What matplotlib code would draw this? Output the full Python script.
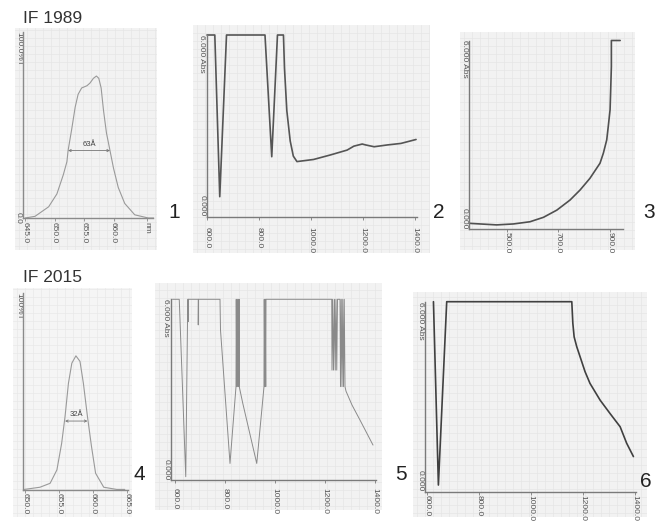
import numpy as np
import matplotlib.pyplot as plt

W, H = 655, 522

plt.rcParams['font.family'] = ['Liberation Sans', 'DejaVu Sans']

# ---- values ----
# 1: IF 1989 transmission (%T vs nm)
p1_nm = [645.0, 646.7, 649.0, 650.4, 651.5, 652.1, 652.3, 652.9, 653.5, 654.0, 654.6,
         655.5, 656.0, 656.6, 657.1, 657.5, 657.9, 658.3, 658.8, 659.4, 660.0, 660.8,
         661.9, 663.6, 665.9, 666.8]
p1_t = [0.0, 0.9, 6.0, 12.9, 23.3, 30.2, 36.2, 47.4, 59.5, 66.4, 69.8,
        71.0, 72.4, 75.0, 76.2, 75.0, 69.8, 57.8, 45.7, 36.2, 26.7, 16.4,
        7.8, 1.7, 0.0, 0.0]
p1_fwhm = [652.3, 659.4]
p1_half = 36.2
p1_note = "63Å"

# 2: IF 1989 absorbance
p2_nm = [600, 630, 649, 675, 823, 849, 871, 894, 898, 907, 920, 932, 946,
         1010, 1075, 1139, 1165, 1197, 1210, 1243, 1294, 1346, 1404]
p2_abs = [6.0, 6.0, 0.66, 6.0, 6.0, 1.98, 6.0, 6.0, 4.9, 3.5, 2.5, 2.0, 1.82,
          1.89, 2.04, 2.20, 2.33, 2.40, 2.37, 2.31, 2.37, 2.42, 2.55]

# 3: IF 1989 absorbance (blocking)
p3_nm = [355, 397, 461, 526, 590, 642, 694, 745, 784, 822, 848, 861, 874, 887,
         893, 900, 902, 905, 905, 939]
p3_abs = [0.19, 0.17, 0.14, 0.17, 0.24, 0.38, 0.61, 0.93, 1.25, 1.62, 1.94, 2.10,
          2.42, 2.84, 3.27, 3.80, 4.33, 5.17, 6.0, 6.0]

# 4: IF 2015 transmission
p4_nm = [649.9, 652.2, 653.7, 654.7, 655.4, 655.9, 656.4, 656.9, 657.5, 658.1,
         658.6, 659.2, 659.8, 660.4, 661.6, 663.5, 664.7]
p4_t = [0.3, 1.4, 3.4, 10.2, 23.7, 37.3, 54.2, 64.4, 68.1, 65.3,
        54.2, 37.3, 22.0, 8.5, 1.4, 0.3, 0.3]
p4_fwhm = [655.9, 659.2]
p4_half = 35.0
p4_note = "32Å"

# 5: IF 2015 absorbance
p5_nm = [590, 617, 643, 651, 653, 653, 654, 693, 693, 694, 780, 782, 820, 844,
         845, 847, 849, 851, 853, 855, 857, 857, 871, 927, 956, 957, 959, 961, 963,
         964, 1227, 1228, 1231, 1234, 1238, 1241, 1244, 1247, 1250, 1260, 1262,
         1265, 1268, 1271, 1274, 1277, 1280, 1284, 1308, 1340, 1392]
p5_abs = [6.0, 6.0, 0.11, 6.0, 6.0, 5.26, 6.0, 6.0, 5.15, 6.0, 6.0, 4.98, 0.55, 3.1,
          6.0, 3.1, 6.0, 3.1, 6.0, 3.1, 6.0, 3.1, 2.55, 0.55, 3.1, 6.0, 3.1, 6.0, 3.1,
          6.0, 6.0, 3.65, 6.0, 3.65, 6.0, 3.65, 6.0, 3.65, 6.0, 6.0, 3.1,
          6.0, 3.1, 6.0, 3.1, 6.0, 3.1, 2.95, 2.49, 1.99, 1.16]

# 6: IF 2015 absorbance (blocking)
p6_nm = [626, 645, 677, 1158, 1162, 1167, 1177, 1190, 1209, 1228, 1267, 1305,
         1344, 1369, 1395]
p6_abs = [6.0, 0.21, 6.0, 6.0, 5.32, 4.89, 4.58, 4.26, 3.79, 3.42, 2.89, 2.47,
          2.05, 1.53, 1.11]

abs_ticks = [600, 800, 1000, 1200, 1400]
abs_labels = ["600.0", "800.0", "1000.0", "1200.0", "1400.0"]


def px_rect(x0, y0, x1, y1):
    return [x0 / W, 1 - y1 / H, (x1 - x0) / W, (y1 - y0) / H]


fig = plt.figure(figsize=(W / 100, H / 100), dpi=100)


def paper(x0, y0, x1, y1, face="#f2f2f2", grid="#e6e6e6"):
    ax = fig.add_axes(px_rect(x0, y0, x1, y1), zorder=0)
    ax.set_facecolor(face)
    ax.set_xlim(0, x1 - x0)
    ax.set_ylim(0, y1 - y0)
    ax.set_xticks(np.arange(4, x1 - x0, 8))
    ax.set_yticks(np.arange(4, y1 - y0, 8))
    ax.grid(True, color=grid, lw=0.5)
    ax.tick_params(length=0, labelbottom=False, labelleft=False)
    for s in ax.spines.values():
        s.set_visible(False)


def panel(rect, xlim, ylim, xticks, xlabels, ylabs, pad, spine="#7a7a7a"):
    ax = fig.add_axes(px_rect(*rect), zorder=2)
    ax.patch.set_alpha(0)
    ax.set_xlim(xlim)
    ax.set_ylim(ylim)
    for side in ["top", "right"]:
        ax.spines[side].set_visible(False)
    for side in ["left", "bottom"]:
        ax.spines[side].set_color(spine)
        ax.spines[side].set_linewidth(1.0)
    ax.set_xticks(xticks)
    ax.set_xticklabels(xlabels, rotation=-90, ha="center", va="top",
                       fontsize=6, color="#555555")
    ax.tick_params(axis="x", length=2, width=0.6, pad=pad, color=spine)
    ax.set_yticks([v for v, _, _ in ylabs])
    labs = ax.set_yticklabels([t for _, t, _ in ylabs], rotation=-90,
                              fontsize=6, color="#555555")
    for lab, (_, _, va) in zip(labs, ylabs):
        lab.set_va(va)
    ax.tick_params(axis="y", length=0, pad=1)
    return ax


def fwhm(ax, xs, y, note):
    ax.annotate("", xy=(xs[1], y), xytext=(xs[0], y),
                arrowprops=dict(arrowstyle="<->", lw=0.6, color="#777777",
                                shrinkA=0, shrinkB=0, mutation_scale=4))
    ax.text((xs[0] + xs[1]) / 2, y + 1.5, note, ha="center", va="bottom",
            fontsize=5.5, color="#444444")


# paper backgrounds of the scanned charts
paper(15, 28, 157, 250)
paper(193, 25, 430, 253)
paper(460, 32, 635, 250)
paper(13, 288, 132, 517, face="#f5f5f5", grid="#e9e9e9")
paper(155, 283, 382, 510)
paper(413, 292, 647, 517)

line_kw = dict(clip_on=False, solid_joinstyle="round", solid_capstyle="round")

# 1
ax1 = panel((23.3, 31.7, 153, 218), (644.71, 666.69), (0, 100),
            [645, 650, 655, 660, 665.7], ["645.0", "650.0", "655.0", "660.0", "nm"],
            [(0, "0.0", "center"), (100, "100.0%T", "top")], pad=0.7, spine="#8a8a8a")
ax1.plot(p1_nm, p1_t, color="#9a9a9a", lw=0.8, **line_kw)
fwhm(ax1, p1_fwhm, p1_half, p1_note)

# 2
ax2 = panel((206.7, 35, 417, 216.7), (598.8, 1407.7), (0, 6), abs_ticks, abs_labels,
            [(0, "0.000", "bottom"), (6, "6.000 Abs", "top")], pad=5.5)
ax2.plot(p2_nm, p2_abs, color="#555555", lw=1.2, **line_kw)

# 3
ax3 = panel((469.3, 40.5, 623, 229.3), (355.2, 950), (0, 6), [500, 700, 900],
            ["500.0", "700.0", "900.0"],
            [(0, "0.000", "bottom"), (6, "6.000 Abs", "top")], pad=0)
ax3.plot(p3_nm, p3_abs, color="#505050", lw=1.2, **line_kw)

# 4
ax4 = panel((23.3, 293, 127.5, 490), (649.75, 665.1), (0, 100),
            [650, 655, 660, 665], ["650.0", "655.0", "660.0", "665.0"],
            [(100, "100%T", "top")], pad=0.2, spine="#8a8a8a")
ax4.plot(p4_nm, p4_t, color="#9a9a9a", lw=0.8, **line_kw)
fwhm(ax4, p4_fwhm, p4_half, p4_note)

# 5
ax5 = panel((170.7, 299.3, 376, 480), (582.8, 1404), (0, 6), abs_ticks, abs_labels,
            [(0, "0.000", "bottom"), (6, "6.000 Abs", "top")], pad=3.8)
ax5.plot(p5_nm, p5_abs, color="#8a8a8a", lw=0.7, **line_kw)

# 6
ax6 = panel((425, 301.7, 635.5, 491.7), (593.5, 1403), (0, 6), abs_ticks, abs_labels,
            [(0, "0.000", "bottom"), (6, "6.000 Abs", "top")], pad=0.2)
ax6.plot(p6_nm, p6_abs, color="#404040", lw=1.2, **line_kw)

# titles and panel numbers
fig.text(23 / W, 1 - 23 / H, "IF 1989", fontsize=12.5, color="#333333", va="baseline")
fig.text(23 / W, 1 - 282 / H, "IF 2015", fontsize=12.5, color="#333333", va="baseline")
for num, x, y in [("1", 168, 218), ("2", 433, 218), ("3", 643, 218),
                  ("4", 133, 480), ("5", 395, 480), ("6", 640, 487)]:
    fig.text(x / W, 1 - y / H, num, fontsize=15, color="#222222", va="baseline")

fig.savefig("out.png", dpi=100)
